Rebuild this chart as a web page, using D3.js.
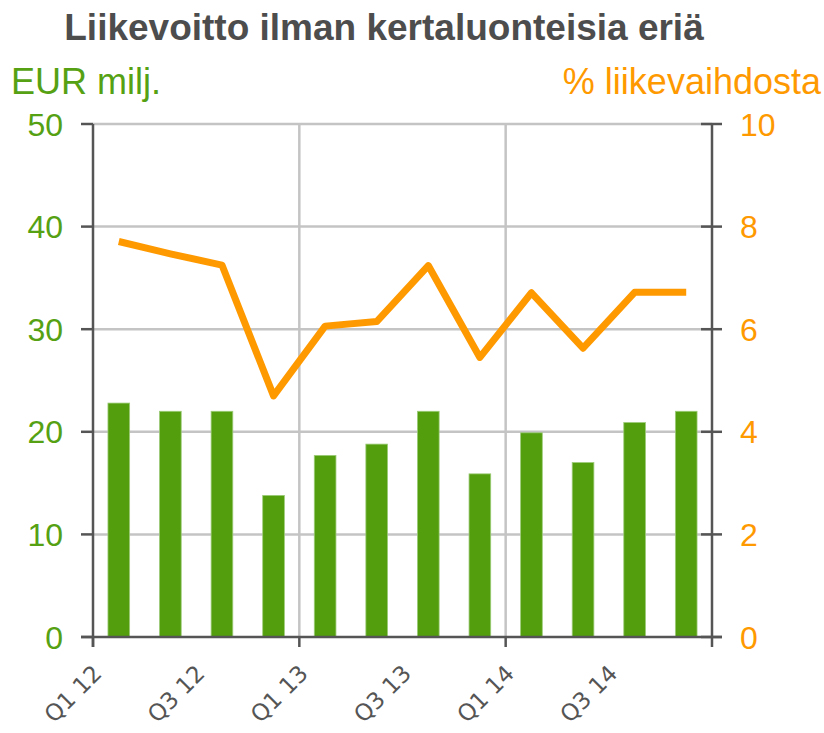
<!DOCTYPE html>
<html>
<head>
<meta charset="utf-8">
<script src="https://cdn.jsdelivr.net/npm/d3@7"></script>
<style>
  body { margin: 0; background: #fff; }
  svg { display: block; font-family: "Liberation Sans", Arial, sans-serif; }
</style>
</head>
<body>
<svg id="chart" width="824" height="733"></svg>
<script>
// quarters and values
const quarters = ['Q1 12', 'Q2 12', 'Q3 12', 'Q4 12', 'Q1 13', 'Q2 13',
                  'Q3 13', 'Q4 13', 'Q1 14', 'Q2 14', 'Q3 14', 'Q4 14']
const ebit = [22.8, 22.0, 22.0, 13.8, 17.7, 18.8, 22.0, 15.9, 19.9, 17.0, 20.9, 22.0]
const margin_pct = [7.71, 7.47, 7.25, 4.7, 6.06, 6.15, 7.24, 5.45, 6.71, 5.63, 6.72, 6.72]
const left_ticks = [0, 10, 20, 30, 40, 50]
const right_ticks = [0, 2, 4, 6, 8, 10]
const x_labels = ['Q1 12', 'Q3 12', 'Q1 13', 'Q3 13', 'Q1 14', 'Q3 14']
const year_starts = ['Q1 12', 'Q1 13', 'Q1 14']

const colors = {
  green: '#529e0c',
  green_text: '#55a113',
  orange: '#ff9900',
  axis: '#555555',
  grid: '#c4c4c4',
  title: '#4d4d4d'
}

const svg = d3.select('#chart')
const plot = { left: 93, right: 712, top: 124, bottom: 637 }

const x = d3.scaleBand()
  .domain(quarters)
  .range([plot.left, plot.right])
  .paddingInner(0.58)
  .paddingOuter(0.29)
const y_left = d3.scaleLinear().domain([0, 50]).range([plot.bottom, plot.top])
const y_right = d3.scaleLinear().domain([0, 10]).range([plot.bottom, plot.top])

// left edge of a quarter's slot
const edge = q => x(q) - (x.step() - x.bandwidth()) / 2

// Title and axis titles
svg.append('text')
  .attr('x', 384).attr('y', 40)
  .attr('text-anchor', 'middle')
  .style('font-size', '37px').style('font-weight', 'bold')
  .style('fill', colors.title)
  .text('Liikevoitto ilman kertaluonteisia eriä')

svg.append('text')
  .attr('x', 11).attr('y', 94)
  .style('font-size', '36px').style('fill', colors.green_text)
  .text('EUR milj.')

svg.append('text')
  .attr('x', 821).attr('y', 94)
  .attr('text-anchor', 'end')
  .style('font-size', '36px').style('fill', colors.orange)
  .text('% liikevaihdosta')

// Grid
let grid = svg.append('g')
grid.selectAll('line.h')
  .data(left_ticks.filter(d => d > 0))
  .join('line')
  .attr('x1', plot.left).attr('x2', plot.right)
  .attr('y1', d => y_left(d)).attr('y2', d => y_left(d))
  .style('stroke', colors.grid).style('stroke-width', 2.5)

grid.selectAll('line.v')
  .data(year_starts.slice(1))
  .join('line')
  .attr('x1', d => edge(d)).attr('x2', d => edge(d))
  .attr('y1', plot.top).attr('y2', plot.bottom)
  .style('stroke', colors.grid).style('stroke-width', 2.5)

// Bars
svg.append('g')
  .selectAll('rect')
  .data(quarters)
  .join('rect')
  .attr('x', d => x(d))
  .attr('width', x.bandwidth())
  .attr('y', (d, i) => y_left(ebit[i]))
  .attr('height', (d, i) => plot.bottom - y_left(ebit[i]))
  .style('fill', colors.green)
  .style('stroke', '#9ccb78')
  .style('stroke-width', 0.8)

// Line
let line = d3.line()
  .x((d, i) => x(quarters[i]) + x.bandwidth() / 2)
  .y(d => y_right(d))

svg.append('path')
  .datum(margin_pct)
  .attr('d', line)
  .style('fill', 'none')
  .style('stroke', colors.orange)
  .style('stroke-width', 7)
  .style('stroke-linejoin', 'round')

// Axes
let axes = svg.append('g').style('stroke', colors.axis).style('stroke-width', 2.5)
axes.append('line').attr('x1', plot.left).attr('x2', plot.left).attr('y1', plot.top).attr('y2', plot.bottom + 10)
axes.append('line').attr('x1', plot.right).attr('x2', plot.right).attr('y1', plot.top).attr('y2', plot.bottom + 10)
axes.append('line').attr('x1', plot.left - 12).attr('x2', plot.right + 10).attr('y1', plot.bottom).attr('y2', plot.bottom)

axes.selectAll('line.lt')
  .data(left_ticks)
  .join('line')
  .attr('x1', plot.left - 12).attr('x2', plot.left)
  .attr('y1', d => y_left(d)).attr('y2', d => y_left(d))

axes.selectAll('line.rt')
  .data(right_ticks)
  .join('line')
  .attr('x1', plot.right - 11).attr('x2', plot.right + 10)
  .attr('y1', d => y_right(d)).attr('y2', d => y_right(d))

axes.selectAll('line.bt')
  .data(year_starts)
  .join('line')
  .attr('x1', d => edge(d)).attr('x2', d => edge(d))
  .attr('y1', plot.bottom).attr('y2', plot.bottom + 10)

// Tick labels
svg.append('g')
  .selectAll('text')
  .data(left_ticks)
  .join('text')
  .attr('x', 63).attr('y', d => y_left(d))
  .attr('dy', '0.36em')
  .attr('text-anchor', 'end')
  .style('font-size', '32px').style('fill', colors.green_text)
  .text(d => d)

svg.append('g')
  .selectAll('text')
  .data(right_ticks)
  .join('text')
  .attr('x', 740).attr('y', d => y_right(d))
  .attr('dy', '0.36em')
  .style('font-size', '32px').style('fill', colors.orange)
  .text(d => d)

svg.append('g')
  .selectAll('text')
  .data(x_labels)
  .join('text')
  .attr('transform', d => `translate(${edge(d) + 10},${675}) rotate(-45)`)
  .attr('text-anchor', 'end')
  .style('font-family', '"DejaVu Sans", Verdana, sans-serif')
  .style('font-size', '23px').style('fill', colors.axis)
  .text(d => d)
</script>
</body>
</html>
